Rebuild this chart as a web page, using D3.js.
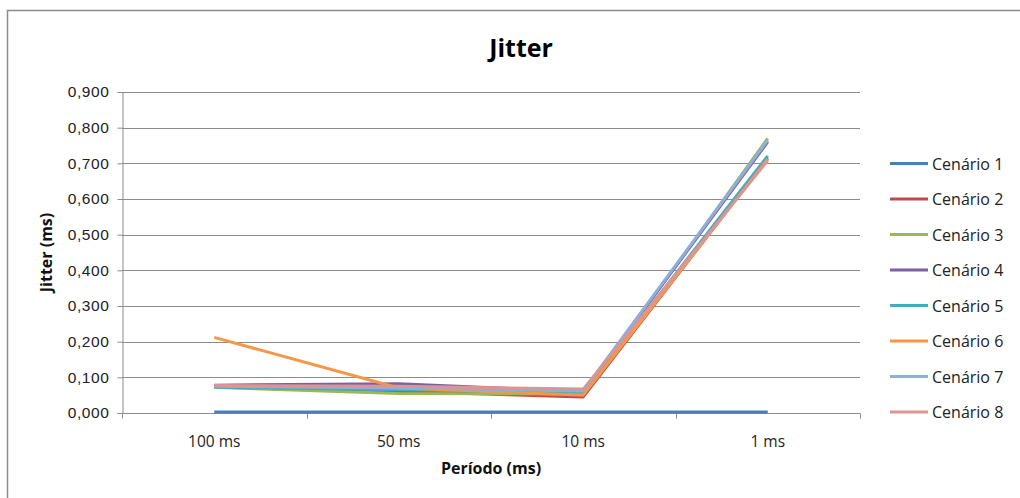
<!DOCTYPE html>
<html>
<head>
<meta charset="utf-8">
<script src="https://cdn.jsdelivr.net/npm/d3@7"></script>
<style>
  html, body { margin: 0; padding: 0; background: #fff; }
  svg { display: block; font-family: "Open Sans", "Noto Sans", sans-serif; }
</style>
</head>
<body>
<svg id="chart" width="1020" height="498"></svg>
<script>
// Periods on the x axis
const periods = ["100 ms", "50 ms", "10 ms", "1 ms"];
// Y-axis tick values
const yTicks = [0, 0.1, 0.2, 0.3, 0.4, 0.5, 0.6, 0.7, 0.8, 0.9];
// Series names
const scenarios = ["Cenário 1", "Cenário 2", "Cenário 3", "Cenário 4", "Cenário 5", "Cenário 6", "Cenário 7", "Cenário 8"];
// Jitter (ms) per scenario, one value per period
const cenario1 = [0.003, 0.003, 0.003, 0.003];
const cenario2 = [0.075, 0.060, 0.045, 0.715];
const cenario3 = [0.072, 0.055, 0.053, 0.770];
const cenario4 = [0.078, 0.082, 0.060, 0.760];
const cenario5 = [0.072, 0.065, 0.058, 0.721];
const cenario6 = [0.212, 0.070, 0.050, 0.712];
const cenario7 = [0.075, 0.070, 0.062, 0.765];
const cenario8 = [0.077, 0.075, 0.067, 0.708];
const seriesValues = [cenario1, cenario2, cenario3, cenario4, cenario5, cenario6, cenario7, cenario8];
const colors = ["#4a7ebb", "#be4b48", "#98b954", "#7d60a0", "#46aac5", "#f79646", "#8eaedb", "#dc9593"];

const svg = d3.select("#chart");

// outer chart frame
svg.append("rect")
  .attr("x", 7.5).attr("y", 10.5)
  .attr("width", 1030).attr("height", 500)
  .attr("fill", "#fff").attr("stroke", "#8c8c8c").attr("stroke-width", 1.5);

const plot = { left: 122, right: 860, top: 92, bottom: 413 };

const x = d3.scaleBand().domain(periods).range([plot.left, plot.right]);
const y = d3.scaleLinear().domain([0, 0.9]).range([plot.bottom, plot.top]);

// horizontal gridlines
svg.append("g")
  .selectAll("line")
  .data(yTicks.filter(d => d > 0))
  .join("line")
  .attr("x1", plot.left).attr("x2", plot.right)
  .attr("y1", d => Math.round(y(d)) + 0.5).attr("y2", d => Math.round(y(d)) + 0.5)
  .attr("stroke", "#8c8c8c").attr("stroke-width", 1);

// y axis
const fmt = d => d3.format(".3f")(d).replace(".", ",");
const yAxis = svg.append("g")
  .attr("transform", `translate(${plot.left + 0.5},0)`)
  .call(d3.axisLeft(y).tickValues(yTicks).tickFormat(fmt).tickSize(5).tickPadding(8));
yAxis.select(".domain").attr("stroke", "#8c8c8c");
yAxis.selectAll(".tick line").attr("stroke", "#8c8c8c");
yAxis.selectAll("text").attr("font-size", 15.5).attr("letter-spacing", 0.6).attr("fill", "#222");

// x axis: ticks at category boundaries
const xAxisG = svg.append("g")
  .attr("transform", `translate(0,${Math.round(plot.bottom) + 0.5})`);
xAxisG.append("line")
  .attr("x1", plot.left).attr("x2", plot.right)
  .attr("stroke", "#8c8c8c");
const boundaries = periods.map(p => x(p)).concat([plot.right]);
xAxisG.selectAll("line.tk")
  .data(boundaries)
  .join("line").attr("class", "tk")
  .attr("x1", d => Math.round(d) + 0.5).attr("x2", d => Math.round(d) + 0.5)
  .attr("y1", 0).attr("y2", 5)
  .attr("stroke", "#8c8c8c");
xAxisG.selectAll("text")
  .data(periods)
  .join("text")
  .attr("x", d => x(d) + x.bandwidth() / 2)
  .attr("y", 33)
  .attr("text-anchor", "middle")
  .attr("font-size", 15.5).attr("fill", "#222")
  .text(d => d);

// series lines
const line = d3.line()
  .x((d, i) => x(periods[i]) + x.bandwidth() / 2)
  .y(d => y(d));
svg.append("g")
  .selectAll("path")
  .data(seriesValues)
  .join("path")
  .attr("d", line)
  .attr("fill", "none")
  .attr("stroke", (d, i) => colors[i])
  .attr("stroke-width", 3)
  .attr("stroke-linejoin", "round");

// title
svg.append("text")
  .attr("x", 521).attr("y", 57)
  .attr("text-anchor", "middle")
  .attr("font-size", 25).attr("font-weight", "bold")
  .attr("fill", "#000")
  .text("Jitter");

// axis titles
svg.append("text")
  .attr("x", (plot.left + plot.right) / 2).attr("y", 474)
  .attr("text-anchor", "middle")
  .attr("font-size", 16).attr("font-weight", "bold").attr("fill", "#111")
  .text("Período (ms)");
svg.append("text")
  .attr("transform", `translate(52,${(plot.top + plot.bottom) / 2}) rotate(-90)`)
  .attr("text-anchor", "middle")
  .attr("font-size", 16).attr("font-weight", "bold").attr("fill", "#111")
  .text("Jitter (ms)");

// legend
const legend = svg.append("g")
  .selectAll("g")
  .data(scenarios)
  .join("g")
  .attr("transform", (d, i) => `translate(890,${163.5 + i * 35.5})`);
legend.append("line")
  .attr("x1", 0).attr("x2", 38)
  .attr("stroke", (d, i) => colors[i]).attr("stroke-width", 3);
legend.append("text")
  .attr("x", 42).attr("y", 6)
  .attr("font-size", 16).attr("fill", "#222")
  .text(d => d);
</script>
</body>
</html>
